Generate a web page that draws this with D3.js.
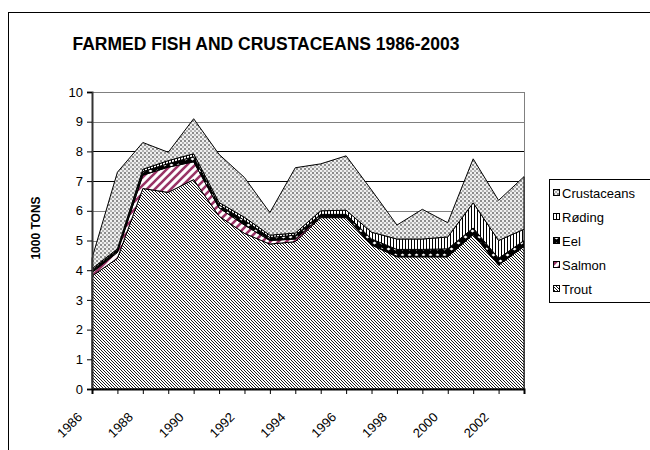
<!DOCTYPE html>
<html>
<head>
<meta charset="utf-8">
<script src="https://cdn.jsdelivr.net/npm/d3@7"></script>
<style>
  body { margin: 0; background: #fff; }
  text { font-family: "Liberation Sans", Arial, sans-serif; }
</style>
</head>
<body>
<script>
// data, 1000 tons per year
var years = [1986, 1987, 1988, 1989, 1990, 1991, 1992, 1993, 1994, 1995,
             1996, 1997, 1998, 1999, 2000, 2001, 2002, 2003];
var trout       = [3.8, 4.4, 6.75, 6.62, 7.05, 5.82, 5.24, 4.88, 4.96, 5.77, 5.77, 4.85, 4.45, 4.45, 4.45, 5.2, 4.17, 4.8];
var salmon      = [0.12, 0.2, 0.45, 0.85, 0.6, 0.28, 0.28, 0.12, 0.09, 0.03, 0.03, 0.02, 0.02, 0.02, 0.02, 0.02, 0.02, 0.02];
var eel         = [0.08, 0.08, 0.12, 0.12, 0.17, 0.1, 0.16, 0.1, 0.13, 0.08, 0.08, 0.18, 0.23, 0.23, 0.25, 0.2, 0.21, 0.18];
var roding      = [0.05, 0.04, 0.08, 0.1, 0.1, 0.08, 0.1, 0.08, 0.07, 0.12, 0.14, 0.23, 0.35, 0.35, 0.4, 0.85, 0.6, 0.38];
var crustaceans = [0.35, 2.58, 0.9, 0.28, 1.18, 1.62, 1.34, 0.76, 2.2, 1.58, 1.83, 1.42, 0.47, 1.0, 0.48, 1.48, 1.35, 1.77];

var seriesNames = ["Trout", "Salmon", "Eel", "Røding", "Crustaceans"];
var seriesValues = [trout, salmon, eel, roding, crustaceans];
var yTicks = [0, 1, 2, 3, 4, 5, 6, 7, 8, 9, 10];
var xLabelYears = [1986, 1988, 1990, 1992, 1994, 1996, 1998, 2000, 2002];

var svgWidth = 650, svgHeight = 450;
var plot = { left: 92, right: 524, top: 92, bottom: 389 };

var svg = d3.select("body").append("svg")
  .attr("width", svgWidth)
  .attr("height", svgHeight);

// fill patterns, one per series
var defs = svg.append("defs");
var pid = ["pTrout", "pSalmon", "pEel", "pRoding", "pCrust"];

var p = defs.append("pattern").attr("id", "pTrout").attr("patternUnits", "userSpaceOnUse")
  .attr("width", 3).attr("height", 3);
p.append("rect").attr("width", 3).attr("height", 3).attr("fill", "#fff");
p.append("path").attr("d", "M0,0L3,3M-1,2L1,4M2,-1L4,1").attr("stroke", "#000").attr("stroke-width", 0.9);

p = defs.append("pattern").attr("id", "pSalmon").attr("patternUnits", "userSpaceOnUse")
  .attr("width", 8).attr("height", 8);
p.append("rect").attr("width", 8).attr("height", 8).attr("fill", "#fff");
p.append("path").attr("d", "M0,8L8,0M-2,2L2,-2M6,10L10,6").attr("stroke", "#993366").attr("stroke-width", 2.6);

p = defs.append("pattern").attr("id", "pEel").attr("patternUnits", "userSpaceOnUse")
  .attr("width", 7).attr("height", 6);
p.append("rect").attr("width", 7).attr("height", 6).attr("fill", "#000");
p.append("path").attr("d", "M1.5,3L3.5,1.6L5.5,3L3.5,4.4Z").attr("fill", "#fff");

p = defs.append("pattern").attr("id", "pRoding").attr("patternUnits", "userSpaceOnUse")
  .attr("width", 3).attr("height", 3);
p.append("rect").attr("width", 3).attr("height", 3).attr("fill", "#fff");
p.append("rect").attr("width", 1).attr("height", 3).attr("fill", "#000");

p = defs.append("pattern").attr("id", "pCrust").attr("patternUnits", "userSpaceOnUse")
  .attr("width", 4).attr("height", 4);
p.append("rect").attr("width", 4).attr("height", 4).attr("fill", "#f0f0f0");
p.append("rect").attr("width", 2).attr("height", 2).attr("fill", "#8c8c8c");
p.append("rect").attr("x", 2).attr("y", 2).attr("width", 2).attr("height", 2).attr("fill", "#b4b4b4");

// outer chart border
svg.append("rect")
  .attr("x", 8.5).attr("y", 12.5)
  .attr("width", 700).attr("height", 500)
  .attr("fill", "none").attr("stroke", "#000");

// title
svg.append("text")
  .attr("x", 266).attr("y", 50)
  .attr("text-anchor", "middle")
  .style("font-size", "17.5px").style("font-weight", "bold")
  .text("FARMED FISH AND CRUSTACEANS 1986-2003");

var x = d3.scaleLinear().domain([1986, 2003]).range([plot.left, plot.right]);
var y = d3.scaleLinear().domain([0, 10]).range([plot.bottom, plot.top]);

// gridlines
svg.append("g")
  .selectAll("line")
  .data(yTicks.slice(1))
  .enter().append("line")
  .attr("x1", plot.left).attr("x2", plot.right)
  .attr("y1", function (d) { return Math.round(y(d)) + 0.5; })
  .attr("y2", function (d) { return Math.round(y(d)) + 0.5; })
  .attr("stroke", function (d) { return (d == 7 || d == 8) ? "#000" : "#808080"; });

// plot area border (right side)
svg.append("line")
  .attr("x1", plot.right + 0.5).attr("x2", plot.right + 0.5)
  .attr("y1", plot.top).attr("y2", plot.bottom)
  .attr("stroke", "#808080");

// stacked areas
var table = years.map(function (yr, i) {
  var row = { year: yr };
  seriesNames.forEach(function (n, k) { row[n] = seriesValues[k][i]; });
  return row;
});
var stacked = d3.stack().keys(seriesNames)(table);

var area = d3.area()
  .x(function (d) { return x(d.data.year); })
  .y0(function (d) { return y(d[0]); })
  .y1(function (d) { return y(d[1]); });

svg.append("g")
  .selectAll("path")
  .data(stacked)
  .enter().append("path")
  .attr("d", area)
  .attr("fill", function (d, i) { return "url(#" + pid[i] + ")"; })
  .attr("stroke", "#000")
  .attr("stroke-width", 1)
  .attr("stroke-linejoin", "miter");

// axes
var leftAxis = d3.axisLeft(y).tickValues(yTicks).tickSize(5).tickPadding(4);
var gy = svg.append("g")
  .attr("transform", "translate(" + plot.left + ",0)")
  .call(leftAxis);
gy.select(".domain").attr("stroke", "#333").attr("stroke-width", 2);
gy.selectAll(".tick text").style("font-size", "13px").attr("fill", "#000");

var bottomAxis = d3.axisBottom(x).tickValues(years).tickSize(5).tickFormat("");
var gx = svg.append("g")
  .attr("transform", "translate(0," + plot.bottom + ")")
  .call(bottomAxis);
gx.select(".domain").attr("stroke", "#000").attr("stroke-width", 2);

svg.append("g")
  .selectAll("text")
  .data(xLabelYears)
  .enter().append("text")
  .attr("transform", function (d) { return "translate(" + (x(d) - 9) + ",418) rotate(-45)"; })
  .attr("text-anchor", "end")
  .style("font-size", "13px")
  .text(function (d) { return d; });

// Y axis label
svg.append("text")
  .attr("transform", "translate(40,228) rotate(-90)")
  .attr("text-anchor", "middle")
  .style("font-size", "12px").style("font-weight", "bold")
  .text("1000 TONS");

// legend
var legend = svg.append("g");
legend.append("rect")
  .attr("x", 549.5).attr("y", 179.5)
  .attr("width", 200).attr("height", 123)
  .attr("fill", "#fff").attr("stroke", "#000");

var legendOrder = [4, 3, 2, 1, 0];
var item = legend.selectAll("g.item")
  .data(legendOrder)
  .enter().append("g")
  .attr("class", "item")
  .attr("transform", function (d, i) { return "translate(553," + (193 + i * 24) + ")"; });
item.append("rect")
  .attr("x", 0.5).attr("y", -3.5)
  .attr("width", 6).attr("height", 6)
  .attr("fill", function (d) { return "url(#" + pid[d] + ")"; })
  .attr("stroke", "#000");
item.append("text")
  .attr("x", 9).attr("y", 5)
  .style("font-size", "13px")
  .text(function (d) { return seriesNames[d]; });
</script>
</body>
</html>
